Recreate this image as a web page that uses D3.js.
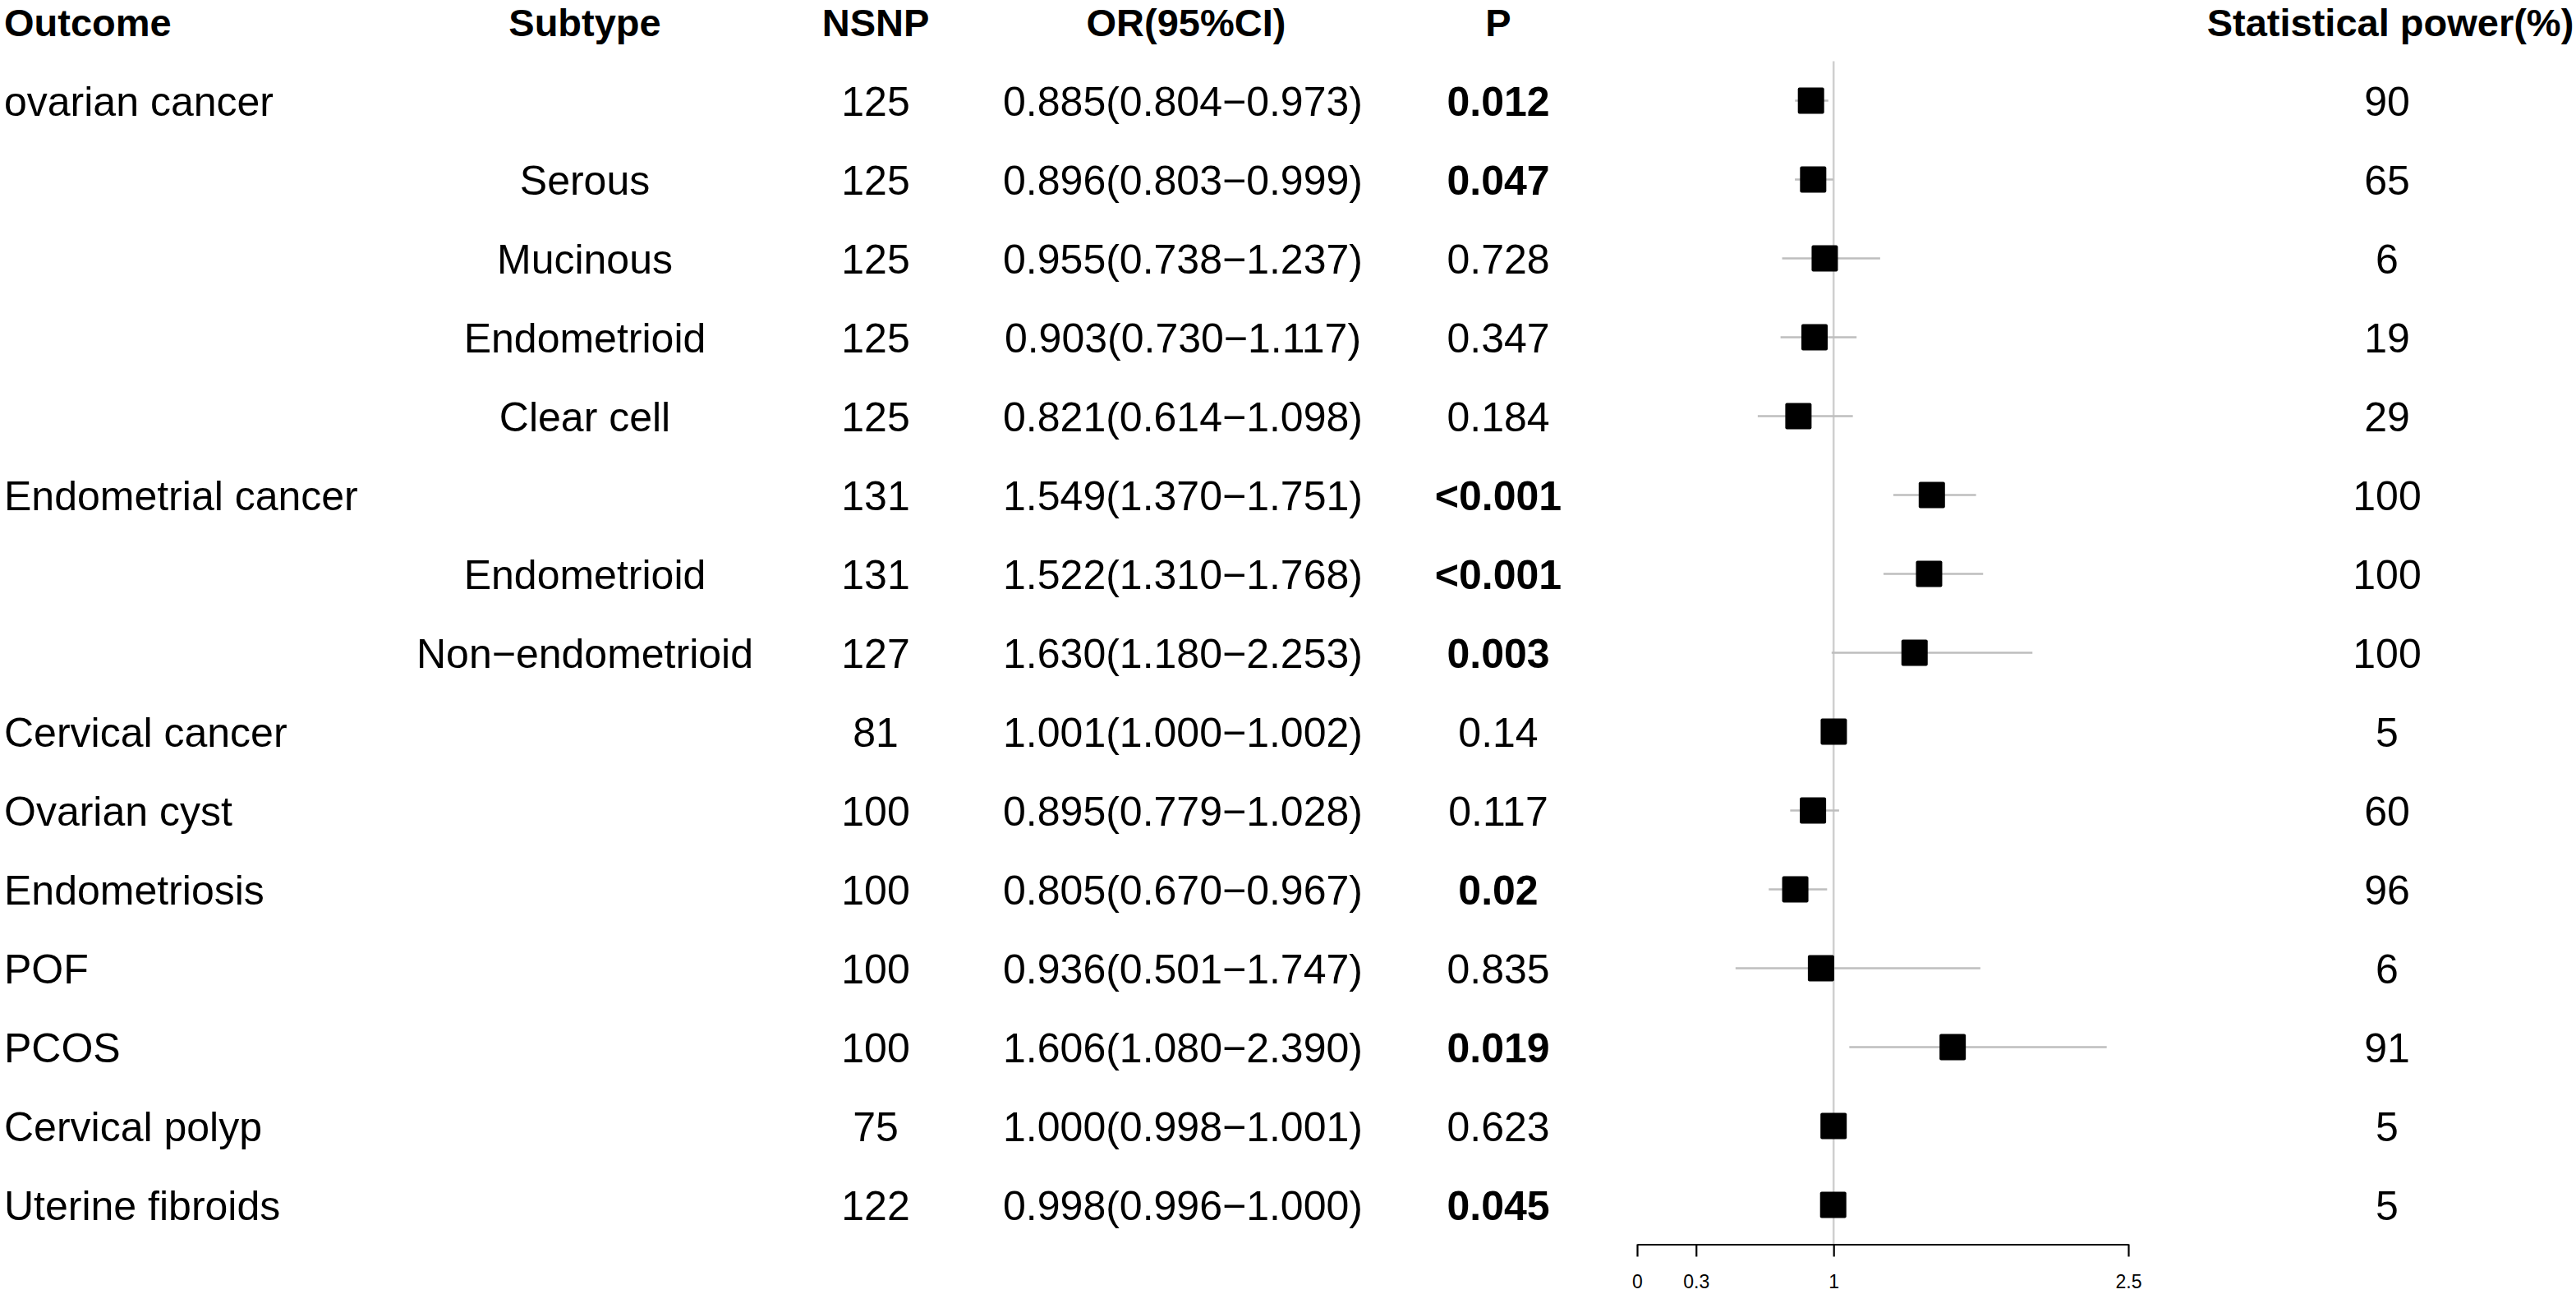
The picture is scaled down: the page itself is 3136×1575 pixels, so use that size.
<!DOCTYPE html>
<html lang="en">
  <head>
    <meta charset="UTF-8" />
    <title>Forest plot: gynecological outcomes</title>
    <script src="https://d3js.org/d3.v7.min.js"></script>
    <style>
      body {
        margin: 0;
        background: #fff;
      }
      text {
        font-family: "Liberation Sans", Arial, sans-serif;
      }
    </style>
  </head>
  <body>
    <div id="chart"></div>

    <script>
      // Table columns, one entry per row
      const outcomes = [
        "ovarian cancer", "", "", "", "",
        "Endometrial cancer", "", "",
        "Cervical cancer", "Ovarian cyst", "Endometriosis",
        "POF", "PCOS", "Cervical polyp", "Uterine fibroids",
      ];
      const subtypes = [
        "", "Serous", "Mucinous", "Endometrioid", "Clear cell",
        "", "Endometrioid", "Non\u2212endometrioid",
        "", "", "", "", "", "", "",
      ];
      const nsnp = [125, 125, 125, 125, 125, 131, 131, 127, 81, 100, 100, 100, 100, 75, 122];

      // printed OR and 95% CI
      const orEst = [0.885, 0.896, 0.955, 0.903, 0.821, 1.549, 1.522, 1.63, 1.001, 0.895, 0.805, 0.936, 1.606, 1.0, 0.998];
      const orLow = [0.804, 0.803, 0.738, 0.73, 0.614, 1.37, 1.31, 1.18, 1.0, 0.779, 0.67, 0.501, 1.08, 0.998, 0.996];
      const orHigh = [0.973, 0.999, 1.237, 1.117, 1.098, 1.751, 1.768, 2.253, 1.002, 1.028, 0.967, 1.747, 2.39, 1.001, 1.0];

      // where the marks actually sit on the plot (endometrial rows are
      // drawn left of their printed values in the original)
      const plotEst = [0.885, 0.896, 0.955, 0.903, 0.821, 1.5, 1.486, 1.412, 1.001, 0.895, 0.805, 0.936, 1.606, 1.0, 0.998];
      const plotLow = [0.804, 0.803, 0.738, 0.73, 0.614, 1.304, 1.254, 0.99, 1.0, 0.779, 0.67, 0.501, 1.08, 0.998, 0.996];
      const plotHigh = [0.973, 0.999, 1.237, 1.117, 1.098, 1.725, 1.761, 2.012, 1.002, 1.028, 0.967, 1.747, 2.39, 1.001, 1.0];

      const pValues = ["0.012", "0.047", "0.728", "0.347", "0.184", "<0.001", "<0.001", "0.003", "0.14", "0.117", "0.02", "0.835", "0.019", "0.623", "0.045"];
      const power = [90, 65, 6, 19, 29, 100, 100, 100, 5, 60, 96, 6, 91, 5, 5];

      const xTicks = [0, 0.3, 1, 2.5];

      const width = 3136,
        height = 1575;

      const svg = d3
        .select("#chart")
        .append("svg")
        .attr("width", width)
        .attr("height", height)
        .style("display", "block");

      const rows = d3.range(outcomes.length);
      const f3 = d3.format(".3f");

      // one band per row
      const y = d3.scaleBand().domain(rows).range([74.5, 1514.5]);
      const cy = (i) => y(i) + y.bandwidth() / 2;

      const x = d3.scaleLinear().domain([0, 2.5]).range([1993, 2591]);

      // column centres (Outcome is left aligned)
      const col = {
        outcome: 5,
        subtype: 712,
        nsnp: 1066,
        or: 1440,
        p: 1824,
        power: 2906,
      };

      // header
      const headers = [
        { label: "Outcome", x: col.outcome, anchor: "start" },
        { label: "Subtype", x: col.subtype, anchor: "middle" },
        { label: "NSNP", x: col.nsnp, anchor: "middle" },
        { label: "OR(95%CI)", x: col.or + 4, anchor: "middle" },
        { label: "P", x: col.p, anchor: "middle" },
        { label: "Statistical power(%)", x: col.power + 4, anchor: "middle" },
      ];
      svg
        .append("g")
        .selectAll("text")
        .data(headers)
        .join("text")
        .attr("x", (d) => d.x)
        .attr("y", 44)
        .attr("text-anchor", (d) => d.anchor)
        .attr("font-size", 47)
        .attr("font-weight", "bold")
        .text((d) => d.label);

      // table body
      const body = svg
        .append("g")
        .attr("font-size", 50)
        .selectAll("g")
        .data(rows)
        .join("g")
        .attr("transform", (i) => `translate(0,${cy(i) + 18})`);

      body
        .append("text")
        .attr("x", col.outcome)
        .text((i) => outcomes[i]);

      body
        .append("text")
        .attr("x", col.subtype)
        .attr("text-anchor", "middle")
        .text((i) => subtypes[i]);

      body
        .append("text")
        .attr("x", col.nsnp)
        .attr("text-anchor", "middle")
        .text((i) => nsnp[i]);

      body
        .append("text")
        .attr("x", col.or)
        .attr("text-anchor", "middle")
        .text((i) => `${f3(orEst[i])}(${f3(orLow[i])}\u2212${f3(orHigh[i])})`);

      body
        .append("text")
        .attr("x", col.p)
        .attr("text-anchor", "middle")
        .attr("font-weight", (i) =>
          pValues[i].startsWith("<") || +pValues[i] < 0.05 ? "bold" : "normal"
        )
        .text((i) => pValues[i]);

      body
        .append("text")
        .attr("x", col.power)
        .attr("text-anchor", "middle")
        .text((i) => power[i]);

      // reference line at OR = 1
      svg
        .append("line")
        .attr("x1", x(1))
        .attr("x2", x(1))
        .attr("y1", y.range()[0])
        .attr("y2", y.range()[1])
        .attr("stroke", "#cfcfcf")
        .attr("stroke-width", 2.5);

      // confidence intervals
      svg
        .append("g")
        .selectAll("line")
        .data(rows)
        .join("line")
        .attr("x1", (i) => x(plotLow[i]))
        .attr("x2", (i) => x(plotHigh[i]))
        .attr("y1", cy)
        .attr("y2", cy)
        .attr("stroke", "#bebebe")
        .attr("stroke-width", 2.7);

      // point estimates
      const box = 32;
      svg
        .append("g")
        .selectAll("rect")
        .data(rows)
        .join("rect")
        .attr("x", (i) => x(plotEst[i]) - box / 2)
        .attr("y", (i) => cy(i) - box / 2)
        .attr("width", box)
        .attr("height", box)
        .attr("rx", 2)
        .attr("fill", "#000");

      // x axis
      const axis = svg
        .append("g")
        .attr("transform", `translate(0,${y.range()[1]})`)
        .call(
          d3
            .axisBottom(x)
            .tickValues(xTicks)
            .tickFormat(d3.format("~g"))
            .tickSize(15)
            .tickSizeOuter(0)
            .tickPadding(22)
        );
      axis.select(".domain").attr("stroke-width", 2.2);
      axis.selectAll(".tick line").attr("stroke-width", 2.2);
      axis
        .selectAll(".tick text")
        .attr("font-size", 23)
        .attr("font-family", "Liberation Sans, Arial, sans-serif");
    </script>
  </body>
</html>
